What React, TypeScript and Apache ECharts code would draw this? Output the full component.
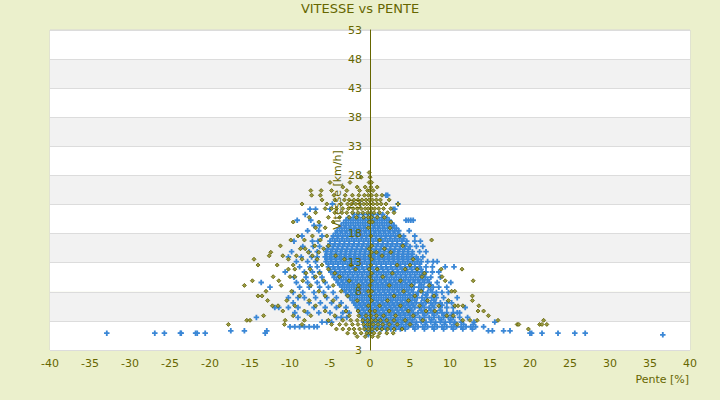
import React, { useEffect, useRef } from "react";
import * as echarts from "echarts";

const title = "VITESSE vs PENTE";
const xName = "Pente [%]";
const yName = "Vitesse [km/h]";

// [speed km/h, slopes %]
const blueRows: [number, number[]][] = [
  [24.6, [2.0, 2.2]],
  [23.1, [-4.7, 3.5]],
  [22.2, [-7.5, -6.8, -5.0, 2.9, 3.1]],
  [21.3, [-8.1, -2, -1.4, -0.8, -0.2, 0.4, 1.0, 1.6]],
  [20.3, [-9.1, -7.4, -3, -2.4, -1.8, -1.2, -0.6, 0, 0.6, 1.2, 1.8, 2.4, 4.5, 4.8, 5.1, 5.4]],
  [19.4, [-7, -6.3, -3.6, -3, -2.4, -1.8, -1.2, -0.6, 0, 0.6, 1.2, 1.8, 2.4, 3.0]],
  [18.5, [-7.8, -6.4, -4.1, -3.5, -2.9, -2.3, -1.7, -1.1, -0.5, 0.1, 0.7, 1.3, 1.9, 2.5, 3.1, 3.6, 4.9]],
  [17.6, [-8.5, -6, -4.6, -4, -3.4, -2.8, -2.2, -1.6, -1, -0.4, 0.2, 0.8, 1.4, 2, 2.6, 3.2, 3.8, 4.2, 5.6]],
  [16.7, [-9.5, -7.2, -6.5, -5, -4.4, -3.8, -3.2, -2.6, -2, -1.4, -0.8, -0.2, 0.4, 1, 1.6, 2.2, 2.8, 3.4, 4, 4.6, 5.6, 6.3]],
  [15.8, [-8.4, -7.1, -6.3, -5.2, -4.6, -4, -3.4, -2.8, -2.2, -1.6, -1, -0.4, 0.2, 0.8, 1.4, 2, 2.6, 3.2, 3.8, 4.4, 5, 5.8, 6.6]],
  [14.9, [-9.8, -7.6, -6.6, -5.5, -4.9, -4.3, -3.7, -3.1, -2.5, -1.9, -1.3, -0.7, -0.1, 0.5, 1.1, 1.7, 2.3, 2.9, 3.5, 4.1, 4.7, 5.3, 6.2, 7.0]],
  [14.0, [-10.2, -8.6, -7.3, -6.6, -5.6, -5, -4.4, -3.8, -3.2, -2.6, -2, -1.4, -0.8, -0.2, 0.4, 1, 1.6, 2.2, 2.8, 3.4, 4, 4.6, 5.2, 5.8, 6.6]],
  [13.2, [-9.2, -7.8, -6.8, -5.5, -4.9, -4.3, -3.7, -3.1, -2.5, -1.9, -1.3, -0.7, -0.1, 0.5, 1.1, 1.7, 2.3, 2.9, 3.5, 4.1, 4.7, 5.3, 5.9, 6.4, 7.2, 7.9, 8.4]],
  [12.3, [-8.8, -7.5, -6.6, -5.2, -4.6, -4, -3.4, -2.8, -2.2, -1.6, -1, -0.4, 0.2, 0.8, 1.4, 2, 2.6, 3.2, 3.8, 4.4, 5, 5.6, 6.2, 7.0, 7.8, 9.4, 10.5]],
  [11.4, [-10.6, -8.2, -7.2, -6.3, -4.9, -4.3, -3.7, -3.1, -2.5, -1.9, -1.3, -0.7, -0.1, 0.5, 1.1, 1.7, 2.3, 2.9, 3.5, 4.1, 4.7, 5.3, 5.9, 6.5, 7.0, 7.8, 8.6]],
  [10.5, [-9.5, -8, -7, -6, -4.5, -3.9, -3.3, -2.7, -2.1, -1.5, -0.9, -0.3, 0.3, 0.9, 1.5, 2.1, 2.7, 3.3, 3.9, 4.5, 5.1, 5.7, 6.3, 6.9, 7.6, 8.8]],
  [9.6, [-13.6, -9.2, -7.8, -6.6, -5.6, -4, -3.4, -2.8, -2.2, -1.6, -1, -0.4, 0.2, 0.8, 1.4, 2, 2.6, 3.2, 3.8, 4.4, 5, 5.6, 6.2, 6.8, 7.4, 8.4, 10.1]],
  [8.8, [-12.5, -8.8, -7.6, -6.3, -5.2, -3.5, -2.9, -2.3, -1.7, -1.1, -0.5, 0.1, 0.7, 1.3, 1.9, 2.5, 3.1, 3.7, 4.3, 4.9, 5.5, 6.1, 6.7, 7.3, 7.9, 8.6, 9.6]],
  [7.9, [-9.6, -8.4, -7, -5.8, -4.6, -3, -2.4, -1.8, -1.2, -0.6, 0, 0.6, 1.2, 1.8, 2.4, 3, 3.6, 4.2, 4.8, 5.4, 6, 6.6, 7.2, 7.8, 8.3, 9.0, 9.8]],
  [7.0, [-10.2, -9, -8.2, -6.8, -5.4, -4.2, -2.5, -1.9, -1.3, -0.7, -0.1, 0.5, 1.1, 1.7, 2.3, 2.9, 3.5, 4.1, 4.7, 5.3, 5.9, 6.5, 7.1, 7.7, 8.3, 9.2, 10.9]],
  [6.1, [-9.6, -7.6, -6.2, -4.8, -3.6, -2, -1.4, -0.8, -0.2, 0.4, 1, 1.6, 2.2, 2.8, 3.4, 4, 4.6, 5.2, 5.8, 6.4, 7, 7.6, 8.2, 8.8, 9.6, 10.2]],
  [5.3, [-11.9, -11.4, -10.2, -9, -7, -5.6, -4.2, -3, -1.6, -1, -0.4, 0.2, 0.8, 1.4, 2, 2.6, 3.2, 3.8, 4.4, 5, 5.6, 6.2, 6.8, 7.4, 8, 8.8, 9.6, 10.4, 11.9]],
  [4.4, [-9.4, -7.8, -6.4, -5, -3.4, -2.6, -1.2, -0.6, 0, 0.6, 1.2, 1.8, 2.4, 3, 3.6, 4.2, 4.8, 5.4, 6, 6.6, 7.2, 7.8, 8.4, 9, 9.6, 10.4, 10.9, 11.2]],
  [3.6, [-14.2, -9, -4.2, -3.6, -2.9, -1.0, -0.4, 0.2, 0.8, 1.4, 2, 2.6, 3.2, 3.8, 4.4, 5, 5.6, 6.2, 6.8, 7.4, 8, 8.6, 9.2, 9.8, 10.4, 11.2, 12.2]],
  [2.8, [-6, -5.4, -4.8, -0.8, -0.2, 0.4, 1, 1.6, 2.2, 2.8, 3.4, 4, 4.6, 5.2, 5.8, 6.4, 7, 7.6, 8.2, 8.8, 9.4, 10, 10.6, 11.4, 13, 15.6]],
  [2.0, [-10, -9.4, -8.8, -8.2, -7.6, -7, -6.6, -0.6, 0, 0.6, 1.2, 1.8, 2.4, 3, 3.6, 4.2, 4.8, 5.4, 6, 6.6, 7.2, 7.8, 8.4, 9, 9.6, 10.2, 10.8, 11.4, 12, 12.6, 13.2, 14.2]],
  [1.3, [-17.4, -15.7, -12.9, -0.4, 0.2, 14.8, 15.3, 16.7, 17.5]],
  [0.9, [-32.9, -26.9, -25.7, -23.7, -23.6, -21.8, -21.6, -20.6, -13.1, 20, 20.2, 21.5, 23.5, 25.6, 26.9]],
  [0.6, [-0.2, 36.6]],
];

// dense core of the blue cloud, between the rows above
const blueCoreRows: [number, number[]][] = [
  [20.75, [-2.7, -2.1, -1.5, -0.9, -0.3, 0.3, 0.9, 1.5, 2.1]],
  [19.85, [-3.3, -2.7, -2.1, -1.5, -0.9, -0.3, 0.3, 0.9, 1.5, 2.1, 2.7]],
  [18.95, [-3.8, -3.2, -2.6, -2, -1.4, -0.8, -0.2, 0.4, 1, 1.6, 2.2, 2.8, 3.3]],
  [18.05, [-4.3, -3.7, -3.1, -2.5, -1.9, -1.3, -0.7, -0.1, 0.5, 1.1, 1.7, 2.3, 2.9, 3.5]],
  [17.15, [-4.7, -4.1, -3.5, -2.9, -2.3, -1.7, -1.1, -0.5, 0.1, 0.7, 1.3, 1.9, 2.5, 3.1, 3.7, 4.2]],
  [16.25, [-5, -4.4, -3.8, -3.2, -2.6, -2, -1.4, -0.8, -0.2, 0.4, 1, 1.6, 2.2, 2.8, 3.4, 4, 4.5]],
  [15.35, [-5.3, -4.7, -4.1, -3.5, -2.9, -2.3, -1.7, -1.1, -0.5, 0.1, 0.7, 1.3, 1.9, 2.5, 3.1, 3.7, 4.3, 4.8]],
  [14.45, [-5.4, -4.8, -4.2, -3.6, -3, -2.4, -1.8, -1.2, -0.6, 0, 0.6, 1.2, 1.8, 2.4, 3, 3.6, 4.2, 4.8, 5.3]],
  [13.6, [-5.4, -4.8, -4.2, -3.6, -3, -2.4, -1.8, -1.2, -0.6, 0, 0.6, 1.2, 1.8, 2.4, 3, 3.6, 4.2, 4.8, 5.4, 6]],
  [12.75, [-5.2, -4.6, -4, -3.4, -2.8, -2.2, -1.6, -1, -0.4, 0.2, 0.8, 1.4, 2, 2.6, 3.2, 3.8, 4.4, 5, 5.6, 6.2]],
  [11.85, [-5, -4.4, -3.8, -3.2, -2.6, -2, -1.4, -0.8, -0.2, 0.4, 1, 1.6, 2.2, 2.8, 3.4, 4, 4.6, 5.2, 5.8, 6.4]],
  [10.95, [-4.6, -4, -3.4, -2.8, -2.2, -1.6, -1, -0.4, 0.2, 0.8, 1.4, 2, 2.6, 3.2, 3.8, 4.4, 5, 5.6, 6.2, 6.8]],
  [10.05, [-4.2, -3.6, -3, -2.4, -1.8, -1.2, -0.6, 0, 0.6, 1.2, 1.8, 2.4, 3, 3.6, 4.2, 4.8, 5.4, 6, 6.6, 7.2]],
  [9.2, [-3.8, -3.2, -2.6, -2, -1.4, -0.8, -0.2, 0.4, 1, 1.6, 2.2, 2.8, 3.4, 4, 4.6, 5.2, 6.4, 7.6]],
  [8.35, [-3.2, -2.6, -2, -1.4, -0.8, -0.2, 0.4, 1, 1.6, 2.2, 2.8, 3.4, 4, 4.6, 5.2, 6.4, 7.6]],
  [7.45, [-2.8, -2.2, -1.6, -1, -0.4, 0.2, 0.8, 1.4, 2, 2.6, 3.2, 3.8, 4.4, 5, 5.8, 7, 8.2]],
  [6.55, [-2.2, -1.6, -1, -0.4, 0.2, 0.8, 1.4, 2, 2.6, 3.2, 3.8, 4.4, 5, 5.6, 6.8, 8]],
  [5.7, [-1.8, -1.2, -0.6, 0, 0.6, 1.2, 1.8, 2.4, 3, 3.6, 4.2, 4.8, 5.4, 6.6, 7.8, 9]],
  [4.85, [-1.4, -0.8, -0.2, 0.4, 1, 1.6, 2.2, 2.8, 3.4, 4, 4.6, 5.2, 6.4, 7.6, 8.8]],
  [4.0, [-1, -0.4, 0.2, 0.8, 1.4, 2, 2.6, 3.2, 3.8, 4.4, 5, 5.6, 6.8, 8, 9.2, 10.2]],
  [3.2, [-0.7, -0.1, 0.5, 1.1, 1.7, 2.3, 2.9, 3.5, 4.1, 4.7, 5.3, 6.5, 7.7, 8.9, 10.1]],
  [2.4, [-0.3, 0.3, 0.9, 1.5, 2.1, 2.7, 3.3, 3.9, 4.5, 5.1, 5.7, 6.9, 8.1, 9.3, 10.5, 11.7, 12.9]],
  [1.6, [0.2, 0.8, 1.4, 2.0, 2.6, 3.2, 3.8, 4.4, 5.6, 6.8, 8, 9.2, 10.4, 11.6, 12.8]],
];

const oliveRows: [number, number[]][] = [
  [28.5, [-0.1]],
  [27.7, [-1.1, 0]],
  [26.8, [-5, -2.5, -0.1, 0.2]],
  [26.0, [-3.4, -1.6, -0.6, 0.1, 0.9]],
  [25.4, [-7.4, -6.1, -4.8, -2.9, -1.3, -0.3, 0, 0.4]],
  [24.6, [-7.3, -6.2, -4.5, -3.1, -2.2, -1.4, -0.7, -0.2, 0.2, 0.8, 1.5]],
  [23.8, [-6, -4.4, -3.2, -2.6, -2, -1.5, -1, -0.5, -0.1, 0.3, 0.8, 1.3, 2.4]],
  [23.1, [-8.5, -5.4, -3.6, -2.8, -2.3, -1.8, -1.3, -0.8, -0.4, 0, 0.4, 0.9, 1.4, 2.0, 3.5]],
  [22.3, [-5.6, -4.8, -4.2, -3.4, -2.7, -2.1, -1.6, -1.1, -0.6, -0.2, 0.2, 0.6, 1.1, 1.7, 2.6]],
  [21.6, [-6.8, -4.4, -3.5, -2.9, -2.2, -1.5, -0.9, -0.3, 0.1, 0.5, 1.2, 2.2, 3.0]],
  [20.8, [-7.6, -5.2, -3.8, -2.6, -1.7, -0.8, -0.2, 0.2, 0.9, 1.8]],
  [20.0, [-9.6, -6.4, -4.6, -0.1, 0.3, 2.6]],
  [19.0, [-6.8, -5.6, -0.2, 2.5]],
  [17.6, [-9, -7.2, -5.4, 0.1, 3.7]],
  [16.9, [-9.9, -8.2, -6.2, 1.2, 7.7]],
  [15.9, [-11.2, -6.9, -5.2, 0.2, 4.1]],
  [15.4, [-8.7, -8.1, -5.8, -0.1, 1.8]],
  [14.8, [-12.4, -7.7, -6.4, 0.2, 0.8, 2.6]],
  [14.2, [-12.6, -10.9, -9.2, -7.2, -4.3, 0, 1.5]],
  [13.6, [-14.5, -10.2, -8.5, -6.6, -3.2, 0.2, 5.4]],
  [12.6, [-14, -11.6, -9.6, -6, -2.4, 0.1, 3.4, 5]],
  [11.9, [-10.2, -9.4, -7.5, -5.2, -1.8, -0.1, 0.9, 4.4, 5.9, 8.9, 11.5]],
  [11.2, [-8, -6.3, -4.4, 0.2, 2.8, 6.8]],
  [10.6, [-12.1, -10, -9.4, -6.8, -3.8, 0, 1.6, 6.5, 9]],
  [9.9, [-14.7, -11.4, -8.4, -5.8, -2.6, 0.2, 3.8, 9.4, 12.9]],
  [9.1, [-15.7, -11.1, -7.4, -4.6, -1.4, 0, 2.4, 5.2, 7.4]],
  [8.1, [-13, -9.8, -6.4, -3.6, -0.2, 0.2, 4.2, 6.4, 10.2, 10.6]],
  [7.3, [-14, -13.5, -8.8, -5.6, -2.8, 0, 3, 5.6, 8, 12.8]],
  [6.5, [-12.8, -10.4, -7.6, -4.6, -1.6, 0.2, 2.2, 4.8, 7.2, 9.8, 12.8]],
  [5.6, [-12.2, -11.5, -9.4, -6.8, -3.8, -0.2, 1.2, 3.8, 6.2, 8.6, 10.6, 11, 11.6, 13.6]],
  [4.7, [-10.9, -8.2, -5.6, -3, -1.5, 0, 0.6, 2.4, 4.8, 7, 8.1, 13.5, 14.2]],
  [3.9, [-13.3, -9.6, -7.4, -4.4, -2.6, -1.4, -0.5, 0.1, 0.8, 1.7, 3.2, 5.4, 9.6, 10.4, 14.8]],
  [3.1, [-15.4, -15, -10.6, -8.2, -5.2, -3.4, -2.4, -1.6, -0.9, -0.3, 0.2, 0.7, 1.3, 2.1, 3.0, 4.4, 6.6, 11.6, 12.5, 13.4, 16, 21.7]],
  [2.4, [-17.7, -10.7, -8.5, -4.8, -3.8, -3, -2.2, -1.5, -0.8, -0.3, 0, 0.4, 1, 1.6, 2.4, 3.4, 5, 10.9, 18.4, 18.6, 21.2, 21.5, 22.1]],
  [1.6, [-4.2, -3.4, -2.6, -2, -1.3, -0.7, -0.2, 0.3, 0.9, 1.5, 2.2, 3.0, 4.0, 19.8]],
  [0.9, [-2.8, -1.9, -1.1, -0.4, 0, 0.5, 1.2, 2.1, 2.9]],
  [0.3, [-1.6, -0.6, 0.3, 1.0]],
];

const xMin = -40;
const xMax = 40;
const xStep = 5;
const yMin = -2;
const yMax = 53;
const yStep = 5;

const toPoints = (rows: [number, number[]][]) =>
  rows.flatMap(([v, ps]) => ps.map((p) => [p, v]));

const OLIVE = "#666600";
const BLUE = "#3a87d6";
const PLUS = "path://M2,0H4V2H6V4H4V6H2V4H0V2H2Z";

const GRID_LEFT = 50;
const GRID_RIGHT = 30;

export default function App() {
  const ref = useRef<HTMLDivElement>(null);
  useEffect(() => {
    if (!ref.current) return;
    const chart = echarts.init(ref.current, null, { renderer: "svg" });
    const plotW = 720 - GRID_LEFT - GRID_RIGHT;
    const zeroOffset = -((0 - xMin) / (xMax - xMin)) * plotW;
    chart.setOption({
      animation: false,
      backgroundColor: "#ebf0cc",
      textStyle: { fontFamily: "DejaVu Sans" },
      title: {
        text: title,
        left: "center",
        top: 2,
        padding: 0,
        textStyle: { color: OLIVE, fontSize: 13, fontWeight: "normal", fontFamily: "DejaVu Sans" },
      },
      graphic: [
        {
          type: "text",
          right: GRID_RIGHT + 1,
          top: 374,
          style: { text: xName, fill: OLIVE, font: "11px 'DejaVu Sans'" },
        },
      ],
      grid: {
        left: GRID_LEFT,
        right: GRID_RIGHT,
        top: 30,
        bottom: 50,
        show: true,
        borderColor: "#d6d6d6",
        borderWidth: 1,
        backgroundColor: "transparent",
        outerBoundsMode: "none",
        containLabel: false,
      },
      xAxis: {
        type: "value",
        min: xMin,
        max: xMax,
        interval: xStep,
        axisLine: { show: false },
        axisTick: { show: false },
        splitLine: { show: false },
        axisLabel: { color: OLIVE, fontSize: 11, margin: 8 },
      },
      yAxis: [
        {
          type: "value",
          min: yMin,
          max: yMax,
          interval: yStep,
          axisLine: { show: false },
          axisTick: { show: false },
          axisLabel: { show: false },
          splitLine: { show: true, lineStyle: { color: "#dcdcdc", width: 1 } },
          splitArea: { show: true, areaStyle: { color: ["#ffffff", "#f2f2f2"] } },
        },
        {
          type: "value",
          min: yMin,
          max: yMax,
          interval: yStep,
          position: "left",
          offset: zeroOffset,
          z: 10,
          name: yName,
          nameLocation: "middle",
          nameGap: 27,
          nameMoveOverlap: false,
          nameTextStyle: { color: OLIVE, fontSize: 11 },
          axisLine: { show: true, onZero: false, lineStyle: { color: OLIVE, width: 1 } },
          axisTick: { show: false },
          axisLabel: {
            color: OLIVE,
            fontSize: 11,
            margin: 8,
            formatter: (val: number) => (val === yMin ? "3" : val === 3 ? "" : String(val)),
          },
          splitLine: { show: false },
          splitArea: { show: false },
        },
      ],
      series: [
        {
          type: "scatter",
          yAxisIndex: 0,
          data: toPoints(blueRows).concat(toPoints(blueCoreRows)),
          symbol: PLUS,
          symbolSize: 5.5,
          itemStyle: { color: BLUE, opacity: 1 },
          silent: true,
        },
        {
          type: "scatter",
          yAxisIndex: 0,
          data: toPoints(oliveRows),
          symbol: "diamond",
          symbolSize: 4,
          itemStyle: { color: "#9a9a40", borderColor: "#5c5c00", borderWidth: 0.8, opacity: 1 },
          silent: true,
        },
      ],
    });
    return () => chart.dispose();
  }, []);
  return (
    <div
      ref={ref}
      style={{ position: "absolute", left: 0, top: 0, width: 720, height: 400 }}
    />
  );
}
